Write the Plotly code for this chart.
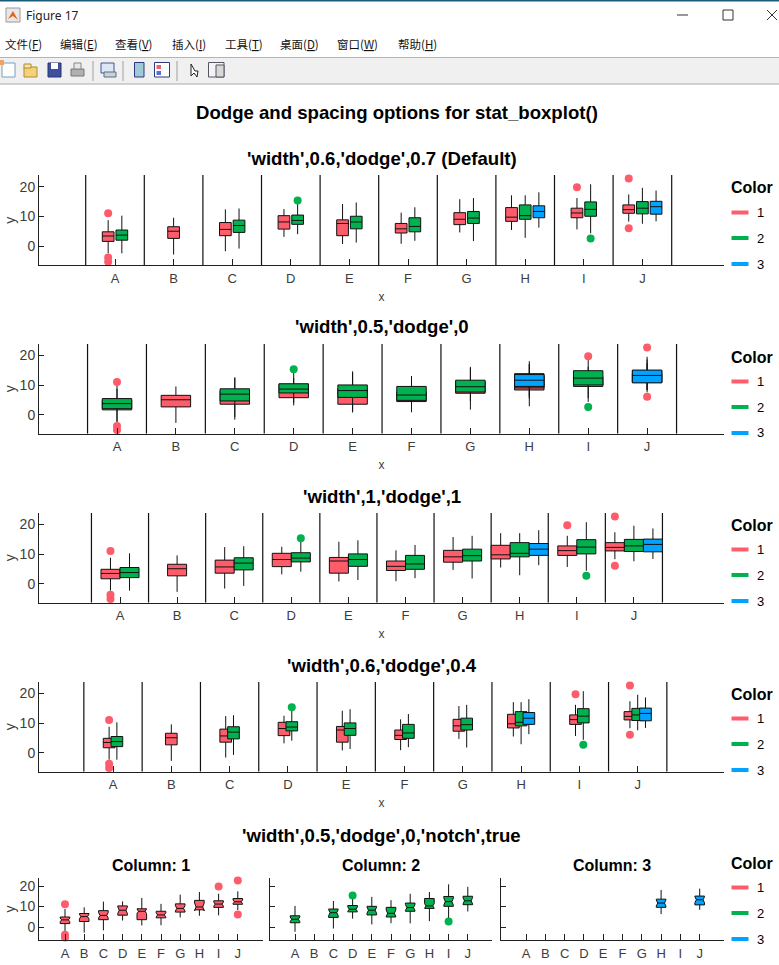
import plotly.graph_objects as go

# ---------- data ----------
categories = ["A", "B", "C", "D", "E", "F", "G", "H", "I", "J"]
color_names = ["1", "2", "3"]

red_low = [-2.3, -2.7, -1.6, 3.2, 0.8, 0.9, 4.7, 5.5, 5.7, 8.3]
red_q1 = [1.7, 2.7, 3.6, 5.8, 3.6, 4.5, 7.3, 8.4, 9.6, 11.1]
red_med = [3.5, 5.1, 5.7, 8.2, 7.7, 5.9, 9.1, 9.8, 11.2, 12.3]
red_q3 = [4.9, 6.6, 8.0, 10.3, 8.9, 7.7, 11.3, 13.0, 12.8, 13.9]
red_high = [8.8, 9.6, 12.4, 12.5, 14.2, 11.3, 15.8, 17.1, 16.2, 17.4]
red_notch = [0.9, 1.2, 1.3, 1.6, 1.15, 1.1, 1.3, 1.9, 1.0, 0.9]

green_low = [-2.3, None, -0.7, 4.1, 1.3, 1.9, 1.8, 2.9, 4.4, 7.6]
green_q1 = [2.1, None, 4.7, 7.4, 5.9, 4.9, 7.7, 9.1, 10.1, 10.9]
green_med = [3.8, None, 7.0, 8.7, 8.2, 6.7, 9.5, 10.3, 12.4, 12.8]
green_q3 = [5.5, None, 8.8, 10.5, 10.1, 9.6, 11.7, 13.9, 14.9, 15.0]
green_high = [10.3, None, 12.7, 14.2, 14.7, 13.1, 16.2, 17.1, 20.8, 19.6]
green_notch = [1.1, None, 1.5, 1.1, 1.5, 1.6, 1.5, 1.1, 1.8, 1.6]

blue_low = [None, None, None, None, None, None, None, 6.3, None, 8.4]
blue_q1 = [None, None, None, None, None, None, None, 9.6, None, 10.8]
blue_med = [None, None, None, None, None, None, None, 11.7, None, 13.3]
blue_q3 = [None, None, None, None, None, None, None, 13.6, None, 15.1]
blue_high = [None, None, None, None, None, None, None, 18.1, None, 18.7]
blue_notch = [None, None, None, None, None, None, None, 1.5, None, 1.5]

red_out_cat = [0, 0, 0, 8, 9, 9]
red_out_val = [11.1, -3.7, -5.1, 19.8, 22.7, 6.1]
green_out_cat = [3, 8]
green_out_val = [15.4, 2.7]

main_title = "Dodge and spacing options for stat_boxplot()"
panel_titles = [
    "'width',0.6,'dodge',0.7 (Default)",
    "'width',0.5,'dodge',0",
    "'width',1,'dodge',1",
    "'width',0.6,'dodge',0.4",
    "'width',0.5,'dodge',0,'notch',true",
]
column_titles = ["Column: 1", "Column: 2", "Column: 3"]
menu_labels = ["文件(<u>F</u>)", "编辑(<u>E</u>)", "查看(<u>V</u>)", "插入(<u>I</u>)",
               "工具(<u>T</u>)", "桌面(<u>D</u>)", "窗口(<u>W</u>)", "帮助(<u>H</u>)"]

# ---------- styles ----------
W, H = 779, 965
FONT = "Liberation Sans"
TICK = "#3c3c3c"
AX = "#202020"
COLORS = ["#FF5C6B", "#00B14F", "#00A3FF"]

series = [
    dict(low=red_low, q1=red_q1, med=red_med, q3=red_q3, high=red_high, notch=red_notch,
         ocat=red_out_cat, oval=red_out_val),
    dict(low=green_low, q1=green_q1, med=green_med, q3=green_q3, high=green_high, notch=green_notch,
         ocat=green_out_cat, oval=green_out_val),
    dict(low=blue_low, q1=blue_q1, med=blue_med, q3=blue_q3, high=blue_high, notch=blue_notch,
         ocat=[], oval=[]),
]
counts = [sum(s["q1"][i] is not None for s in series) for i in range(len(categories))]


def px(x):
    return x / W


def py(y):
    return 1 - y / H


fig = go.Figure()
shapes, annots = [], []


def text(x, y, s, size=12, bold=False, color="#000", anchor="center", family=FONT):
    annots.append(dict(x=px(x), y=py(y), xref="paper", yref="paper", text=f"<b>{s}</b>" if bold else s,
                       showarrow=False, xanchor=anchor, yanchor="middle", borderpad=0, borderwidth=0,
                       font=dict(family=family, size=size, color=color)))


def rect(x0, y0, x1, y1, fill, line=None, lw=1):
    shapes.append(dict(type="rect", xref="paper", yref="paper", x0=px(x0), x1=px(x1), y0=py(y0), y1=py(y1),
                       fillcolor=fill, line=dict(color=line or fill, width=lw if line else 0), layer="below"))


def line(x0, y0, x1, y1, color, lw=1):
    shapes.append(dict(type="line", xref="paper", yref="paper", x0=px(x0), x1=px(x1), y0=py(y0), y1=py(y1),
                       line=dict(color=color, width=lw), layer="below"))


axis_count = 0


def add_axes(left, right, top, bottom, a_px, spacing, xlabel, ylabel, ylabels=True, sep=True):
    global axis_count
    axis_count += 1
    n = "" if axis_count == 1 else str(axis_count)
    xa = dict(domain=[px(left), px(right)], range=[(left - a_px) / spacing, (right - a_px) / spacing],
              anchor=f"y{n}", tickmode="array", tickvals=list(range(len(categories))), ticktext=categories,
              ticks="inside", ticklen=6, tickwidth=1, tickcolor=AX, showline=True, linecolor=AX, linewidth=1,
              showgrid=False, zeroline=False, ticklabelstandoff=1,
              tickfont=dict(family=FONT, size=13, color=TICK))
    if xlabel:
        xa["title"] = dict(text="x", standoff=7, font=dict(family=FONT, size=12, color=TICK))
    ya = dict(domain=[py(bottom), py(top)], range=[-6.3, 23.9], anchor=f"x{n}", tickmode="array",
              tickvals=[0, 10, 20], ticks="inside", ticklen=5, tickwidth=1, tickcolor=AX, showline=True,
              linecolor=AX, linewidth=1, showgrid=False, zeroline=False, showticklabels=ylabels,
              tickfont=dict(family=FONT, size=14, color=TICK))
    if ylabel:
        ya["title"] = dict(text="y", standoff=0, font=dict(family=FONT, size=14, color=TICK))
    fig.update_layout({f"xaxis{n}": xa, f"yaxis{n}": ya})
    if sep:
        for k in range(len(categories) + 1):
            shapes.append(dict(type="line", xref=f"x{n}", yref=f"y{n} domain", x0=k - 0.5, x1=k - 0.5, y0=0, y1=1,
                               line=dict(color="#111111", width=1.2), layer="below"))
    return f"x{n}", f"y{n}"


def add_boxes(xr, yr, idx, width, dodge, notched):
    s = series[idx]
    present = [i for i in range(len(categories)) if s["q1"][i] is not None]
    rank = []
    for i in present:
        r = sum(series[j]["q1"][i] is not None for j in range(idx))
        rank.append(r)
    pos = [i + (r - (counts[i] - 1) / 2) * dodge / 3 for i, r in zip(present, rank)]
    pick = lambda key: [s[key][i] for i in present]
    kw = dict(notched=True, notchspan=pick("notch"), notchwidth=0.15) if notched else {}
    fig.add_trace(go.Box(x=pos, q1=pick("q1"), median=pick("med"), q3=pick("q3"),
                         lowerfence=pick("low"), upperfence=pick("high"), width=width,
                         boxpoints=False, whiskerwidth=0, fillcolor=COLORS[idx],
                         line=dict(color="#111111", width=1), xaxis=xr, yaxis=yr,
                         name=color_names[idx], showlegend=False, **kw))
    if s["ocat"]:
        opos = []
        for c in s["ocat"]:
            r = sum(series[j]["q1"][c] is not None for j in range(idx))
            opos.append(c + (r - (counts[c] - 1) / 2) * dodge / 3)
        fig.add_trace(go.Scatter(x=opos, y=s["oval"], mode="markers", xaxis=xr, yaxis=yr, cliponaxis=False,
                                 marker=dict(color=COLORS[idx], size=8), showlegend=False, hoverinfo="skip"))


def add_legend(y):
    text(731, y, "Color", 16, True, anchor="left")
    for k, dy in enumerate([24.5, 50, 76]):
        line(731.5, y + dy, 748.5, y + dy, COLORS[k], 4)
        text(760, y + dy, color_names[k], 13)


# ---------- dodged panels ----------
panels = [
    (175, 265.3, 115, 58.6, 0.6, 0.7, 158, 188),
    (344, 433.6, 117, 58.9, 0.5, 0.0, 326, 357),
    (513, 602.5, 120, 57.1, 1.0, 1.0, 496, 525),
    (682, 771.5, 113, 58.3, 0.6, 0.4, 665, 694),
]
for p, (top, bottom, a_px, sp, w, d, ty, ly) in enumerate(panels):
    xr, yr = add_axes(39, 724, top, bottom, a_px, sp, True, True)
    for idx in range(3):
        add_boxes(xr, yr, idx, w / 3 if d else w, d, False)
    text(381.5, ty, panel_titles[p], 18.6, True)
    add_legend(ly)

# ---------- notched faceted panel ----------
facets = [(39, 263, 65, 19.2, 151), (270, 492, 295, 19.2, 381), (501, 724, 526, 19.3, 612)]
for idx, (l, r, a_px, sp, tx) in enumerate(facets):
    xr, yr = add_axes(l, r, 878, 940, a_px, sp, False, idx == 0, ylabels=idx == 0, sep=False)
    add_boxes(xr, yr, idx, 0.5, 0, True)
    text(tx, 865, column_titles[idx], 16, True)
text(381.5, 835, panel_titles[4], 18.6, True)
add_legend(863)
text(397, 112, main_title, 18.6, True)

# ---------- window chrome ----------
rect(0, 0, 779, 1.5, "#1c5a7a")
text(26, 16, "Figure 17", 12, False, "#222", "left", "Noto Sans")
rect(6, 8, 20, 22, "#e8e8e8", "#999")
shapes.append(dict(type="path", xref="paper", yref="paper", layer="below", fillcolor="#e2661c", line=dict(width=0),
                   path=f"M {px(8)} {py(19)} L {px(13)} {py(11)} L {px(18)} {py(20)} L {px(13)} {py(16)} Z"))
line(677, 15, 688, 15, "#333")
rect(723, 10, 733, 20, "#ffffff", "#333")
line(767, 10, 777, 20, "#333")
line(767, 20, 777, 10, "#333")
for label, mx in zip(menu_labels, [5, 60, 115, 172, 225, 280, 337, 398]):
    text(mx, 44, label, 11.5, False, "#111", "left", "Noto Sans CJK SC")
rect(0, 58, 779, 84, "#f0f0f0")
line(0, 57.5, 779, 57.5, "#b4b4b4")
line(0, 84, 779, 84, "#a8a8a8")
for sx in [93, 123, 177]:
    line(sx, 61, sx, 81, "#a0a0a0")
rect(2, 63, 15, 77, "#ffffff", "#7a9cc0")
rect(0, 60, 4, 65, "#f2a060")
rect(24, 67, 37, 77, "#f3d27a", "#b08a30")
rect(24, 64, 31, 68, "#f7e3a8", "#b08a30")
rect(48, 63, 61, 77, "#3f4f9f", "#2a3570")
rect(51, 63, 58, 69, "#ffffff")
rect(71, 69, 84, 76, "#b0b0b0", "#777")
rect(74, 63, 81, 69, "#e8e8e8", "#888")
rect(101, 63, 114, 73, "#dce6f5", "#3c5a96")
rect(104, 72, 116, 77, "#c8d2dc", "#5a6e82")
rect(134.5, 62.5, 144, 77, "#9fc8d8", "#2a3a7a")
rect(154.5, 62.5, 169.5, 77, "#ffffff", "#2a3a7a")
rect(156.5, 65, 161, 69, "#f0606a")
rect(156.5, 71, 161, 75, "#5a6ae0")
shapes.append(dict(type="path", xref="paper", yref="paper", layer="below", fillcolor="#ffffff",
                   line=dict(color="#222", width=1),
                   path=f"M {px(191)} {py(64)} L {px(191)} {py(76)} L {px(194)} {py(73)} L {px(197)} {py(77)} "
                        f"L {px(198)} {py(71)} L {px(195)} {py(71)} Z"))
rect(208.5, 62.5, 224, 77, "#f4f4f4", "#556")
rect(216, 65, 224, 77, "#d8d8d8", "#556")

fig.update_layout(width=W, height=H, margin=dict(l=0, r=0, t=0, b=0), autosize=False,
                  paper_bgcolor="white", plot_bgcolor="white", showlegend=False, boxmode="overlay",
                  shapes=shapes, annotations=annots)
fig.write_html("out.html", config={"displayModeBar": False},
               post_script="document.body.style.margin='0';document.body.style.overflow='hidden';")
